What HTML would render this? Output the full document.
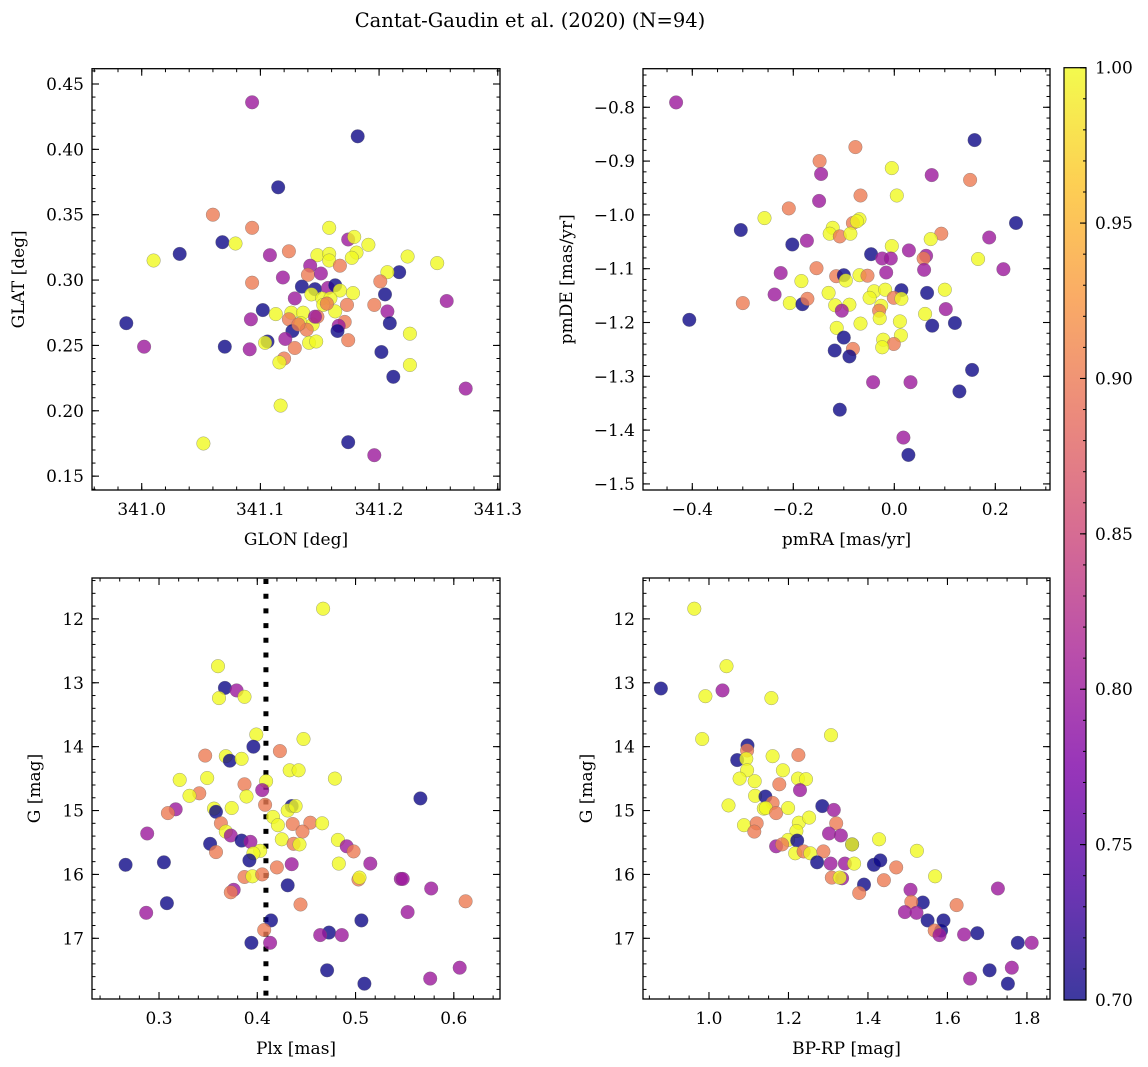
<!DOCTYPE html>
<html><head><meta charset="utf-8"><style>
html,body{margin:0;padding:0;background:#fff;}
svg{display:block;font-family:"DejaVu Serif","Liberation Serif",serif;}
</style></head><body>
<svg id="fig" width="1148" height="1067" viewBox="0 0 1148 1067" xmlns="http://www.w3.org/2000/svg">
<defs>
<linearGradient id="plasma" x1="0" y1="1" x2="0" y2="0">
<stop offset="0" stop-color="#0d0887"/><stop offset="0.125" stop-color="#4c02a1"/><stop offset="0.25" stop-color="#7e03a8"/><stop offset="0.375" stop-color="#a92395"/><stop offset="0.5" stop-color="#cc4778"/><stop offset="0.625" stop-color="#e66c5c"/><stop offset="0.75" stop-color="#f89540"/><stop offset="0.875" stop-color="#fdc328"/><stop offset="1" stop-color="#f0f921"/>
</linearGradient>
</defs>
<text x="530" y="27" font-size="19.5" text-anchor="middle">Cantat-Gaudin et al. (2020) (N=94)</text>
<g id="root"></g>
</svg>
<script>
// Panel 1: GLON vs GLAT
const p1x=[341.093,341.182,341.115,341.060,341.093,341.068,341.079,341.032,341.010,341.108,341.124,341.158,341.174,341.179,341.191,341.181,341.177,341.148,341.158,341.158,341.167,341.142,341.140,341.151,341.224,341.249,341.217,341.207,341.201,341.119,341.093,341.135,341.146,341.143,341.157,341.163,341.167,341.178,341.205,341.129,341.152,341.159,341.173,341.153,341.257,341.196,341.207,341.163,341.102,341.092,341.113,341.126,341.136,341.124,341.134,341.144,341.148,341.171,341.166,341.165,341.209,340.987,341.127,341.139,341.121,341.106,341.104,341.129,341.141,341.147,341.174,341.226,341.002,341.070,341.091,341.202,341.120,341.116,341.226,341.212,341.273,341.117,341.052,341.174,341.196,341.156,341.146,341.132];
const p1y=[0.436,0.410,0.371,0.350,0.340,0.329,0.328,0.320,0.315,0.319,0.322,0.340,0.331,0.333,0.327,0.321,0.317,0.319,0.320,0.315,0.311,0.311,0.304,0.305,0.318,0.313,0.306,0.306,0.299,0.302,0.298,0.295,0.293,0.289,0.294,0.296,0.292,0.290,0.289,0.286,0.286,0.286,0.281,0.281,0.284,0.281,0.276,0.276,0.277,0.270,0.274,0.275,0.275,0.270,0.267,0.266,0.272,0.268,0.265,0.261,0.267,0.267,0.261,0.262,0.255,0.253,0.252,0.248,0.252,0.253,0.254,0.259,0.249,0.249,0.247,0.245,0.240,0.237,0.235,0.226,0.217,0.204,0.175,0.176,0.166,0.282,0.272,0.266];
const p1c=[0.8,0.7,0.7,0.9,0.9,0.7,1,0.7,1,0.8,0.9,1,0.8,1,1,1,1,1,1,1,0.9,0.8,0.9,0.8,1,1,0.7,1,0.9,0.8,0.9,0.7,0.7,1,0.8,0.7,1,1,0.7,0.8,1,1,0.9,1,0.8,0.9,0.8,1,0.7,0.8,1,1,1,0.9,1,1,0.9,0.9,0.8,0.7,0.7,0.7,0.7,0.9,0.8,0.7,1,0.9,1,1,0.9,1,0.8,0.7,0.8,0.7,0.9,1,1,0.7,0.8,1,1,0.7,0.8,0.9,0.8,0.9];
// Panel 2: pmRA vs pmDE
const p2x=[-0.432,0.159,-0.077,-0.148,-0.145,-0.005,0.074,0.150,0.005,-0.067,-0.149,-0.209,-0.257,-0.304,0.241,-0.069,-0.082,-0.074,-0.122,-0.128,-0.108,-0.087,0.093,0.072,0.188,-0.202,-0.173,-0.005,-0.046,-0.024,-0.007,0.029,0.063,0.058,0.166,0.216,0.059,-0.016,-0.154,-0.225,-0.115,-0.100,-0.096,-0.069,-0.053,-0.184,-0.130,-0.040,-0.018,0.014,0.065,0.100,-0.237,-0.300,-0.406,-0.207,-0.182,-0.172,-0.117,-0.089,-0.104,-0.049,-0.001,0.014,-0.026,-0.030,-0.029,0.061,0.102,-0.067,0.011,-0.114,0.075,0.120,-0.100,0.013,-0.022,-0.001,-0.024,-0.118,-0.082,-0.089,0.154,-0.042,0.032,0.129,-0.108,0.018,0.028];
const p2y=[-0.791,-0.861,-0.874,-0.900,-0.924,-0.913,-0.926,-0.935,-0.964,-0.964,-0.974,-0.988,-1.006,-1.028,-1.015,-1.008,-1.015,-1.012,-1.024,-1.035,-1.040,-1.035,-1.035,-1.045,-1.042,-1.055,-1.048,-1.058,-1.073,-1.081,-1.081,-1.066,-1.076,-1.081,-1.082,-1.101,-1.102,-1.107,-1.099,-1.108,-1.114,-1.112,-1.122,-1.112,-1.113,-1.123,-1.145,-1.142,-1.139,-1.140,-1.145,-1.139,-1.148,-1.164,-1.195,-1.164,-1.166,-1.156,-1.168,-1.167,-1.178,-1.154,-1.154,-1.156,-1.169,-1.178,-1.192,-1.184,-1.175,-1.202,-1.198,-1.210,-1.206,-1.201,-1.228,-1.224,-1.232,-1.240,-1.246,-1.252,-1.249,-1.263,-1.288,-1.311,-1.311,-1.328,-1.362,-1.414,-1.446];
const p2c=[0.8,0.7,0.9,0.9,0.8,1,0.8,0.9,1,0.9,0.8,0.9,1,0.7,0.7,1,0.9,1,1,1,0.9,1,0.9,1,0.8,0.7,0.8,1,0.7,0.8,0.8,0.8,0.8,0.9,1,0.8,0.8,0.8,0.9,0.8,0.9,0.7,1,1,0.9,1,1,1,1,0.7,0.7,1,0.8,0.9,0.7,1,0.7,0.9,1,1,0.8,1,0.9,1,1,0.9,1,1,0.8,1,1,1,0.7,0.7,0.7,1,1,0.9,1,0.7,0.9,0.7,0.7,0.8,0.8,0.7,0.7,0.8,0.7];
// Panel 3: Plx vs G
const p3x=[0.467,0.360,0.367,0.379,0.361,0.387,0.399,0.396,0.447,0.423,0.347,0.368,0.372,0.384,0.433,0.442,0.321,0.349,0.409,0.479,0.387,0.405,0.341,0.331,0.389,0.408,0.566,0.317,0.309,0.356,0.358,0.374,0.435,0.431,0.439,0.416,0.421,0.436,0.454,0.466,0.363,0.368,0.373,0.446,0.288,0.425,0.482,0.352,0.384,0.393,0.358,0.437,0.443,0.491,0.498,0.403,0.396,0.392,0.266,0.305,0.435,0.420,0.483,0.515,0.503,0.504,0.387,0.395,0.405,0.546,0.548,0.431,0.376,0.373,0.577,0.308,0.444,0.612,0.287,0.553,0.414,0.506,0.407,0.473,0.464,0.486,0.394,0.413,0.471,0.509,0.576,0.606];
const p3y=[11.84,12.74,13.08,13.12,13.24,13.22,13.81,14.00,13.88,14.07,14.14,14.15,14.22,14.19,14.37,14.37,14.52,14.49,14.54,14.50,14.59,14.68,14.73,14.77,14.78,14.91,14.81,14.98,15.04,14.97,15.02,14.96,14.93,15.00,14.93,15.10,15.23,15.21,15.19,15.20,15.20,15.33,15.39,15.33,15.36,15.45,15.46,15.52,15.47,15.49,15.65,15.52,15.53,15.56,15.64,15.63,15.67,15.78,15.85,15.81,15.84,15.89,15.83,15.83,16.08,16.05,16.04,16.03,16.00,16.07,16.07,16.17,16.24,16.28,16.22,16.45,16.47,16.42,16.60,16.59,16.72,16.72,16.87,16.91,16.95,16.95,17.07,17.07,17.50,17.71,17.63,17.46];
const p3c=[1,1,0.7,0.8,1,1,1,0.7,1,0.9,0.9,1,0.7,1,1,1,1,1,1,1,0.9,0.8,0.9,1,1,0.9,0.7,0.8,0.9,1,0.7,1,0.7,1,1,1,1,0.9,0.9,1,0.9,1,0.8,0.9,0.8,1,1,0.7,0.7,0.8,0.9,0.9,1,0.8,0.9,1,1,0.7,0.7,0.7,0.8,0.9,1,0.8,0.9,1,0.9,1,0.9,0.8,0.8,0.7,0.8,0.9,0.8,0.7,0.9,0.9,0.8,0.8,0.7,0.7,0.9,0.7,0.8,0.8,0.7,0.8,0.7,0.7,0.8,0.8];
const plxMean=0.4088;
// Panel 4: BP-RP vs G
const p4x=[0.963,1.044,0.879,1.034,0.991,1.157,0.983,1.307,1.097,1.096,1.071,1.094,1.160,1.225,1.096,1.186,1.077,1.115,1.177,1.224,1.244,1.229,1.116,1.142,1.049,1.160,1.138,1.143,1.169,1.199,1.285,1.314,1.088,1.120,1.114,1.226,1.252,1.320,1.302,1.332,1.220,1.199,1.222,1.169,1.184,1.217,1.238,1.255,1.288,1.360,1.360,1.428,1.523,1.272,1.306,1.342,1.365,1.415,1.431,1.471,1.309,1.335,1.329,1.390,1.440,1.569,1.378,1.507,1.727,1.538,1.509,1.623,1.493,1.522,1.550,1.590,1.584,1.568,1.580,1.642,1.675,1.777,1.812,1.762,1.706,1.657,1.752];
const p4y=[11.84,12.74,13.09,13.12,13.21,13.24,13.88,13.82,13.98,14.06,14.21,14.19,14.15,14.13,14.37,14.37,14.50,14.54,14.59,14.50,14.51,14.68,14.77,14.78,14.92,14.88,14.97,14.96,15.04,14.96,14.93,14.99,15.23,15.20,15.33,15.19,15.11,15.20,15.36,15.39,15.32,15.46,15.47,15.56,15.53,15.67,15.64,15.67,15.64,15.53,15.53,15.45,15.63,15.81,15.83,15.83,15.83,15.85,15.78,15.89,16.05,16.06,16.05,16.16,16.09,16.03,16.29,16.24,16.22,16.44,16.43,16.48,16.59,16.60,16.72,16.72,16.88,16.88,16.95,16.94,16.92,17.07,17.07,17.46,17.50,17.63,17.71];
const p4c=[1,1,0.7,0.8,1,1,1,1,0.7,0.9,0.7,1,1,0.9,1,1,1,1,0.9,1,1,0.8,1,0.7,1,0.9,1,1,0.9,1,0.7,0.8,1,0.9,0.9,1,1,0.9,0.8,0.8,1,1,0.7,0.8,0.9,1,0.9,1,0.9,0.7,1,1,1,0.7,0.8,0.8,1,0.7,0.7,0.9,0.9,0.8,1,0.7,0.9,1,0.9,0.8,0.8,0.7,0.9,0.9,0.8,0.8,0.7,0.7,0.7,0.9,0.8,0.8,0.7,0.7,0.8,0.8,0.7,0.8,0.7];
// Tick labels
const p1xTicks=["341.0","341.1","341.2","341.3"];
const p1yTicks=["0.15","0.20","0.25","0.30","0.35","0.40","0.45"];
const p2xTicks=["\u22120.4","\u22120.2","0.0","0.2"];
const p2yTicks=["\u22121.5","\u22121.4","\u22121.3","\u22121.2","\u22121.1","\u22121.0","\u22120.9","\u22120.8"];
const p3xTicks=["0.3","0.4","0.5","0.6"];
const gTicks=["12","13","14","15","16","17"];
const p4xTicks=["1.0","1.2","1.4","1.6","1.8"];
const cbTicks=["0.70","0.75","0.80","0.85","0.90","0.95","1.00"];

const FS=17;
const NS="http://www.w3.org/2000/svg";
const root=document.getElementById('root');
function mk(tag,attrs,parent){const e=document.createElementNS(NS,tag);for(const k in attrs)e.setAttribute(k,attrs[k]);(parent||root).appendChild(e);return e;}
const stops=[[0,[13,8,135]],[0.125,[76,2,161]],[0.25,[126,3,168]],[0.375,[169,35,149]],[0.5,[204,71,120]],[0.625,[230,108,92]],[0.75,[248,149,64]],[0.875,[253,195,40]],[1,[240,249,33]]];
function plasma(t){t=Math.max(0,Math.min(1,t));for(let i=1;i<stops.length;i++){if(t<=stops[i][0]){const a=stops[i-1],b=stops[i];const f=(t-a[0])/(b[0]-a[0]);const c=a[1].map((v,j)=>Math.round(v+(b[1][j]-v)*f));return `rgb(${c[0]},${c[1]},${c[2]})`;}}return 'rgb(240,249,33)';}

function panel(o){
  const g=mk('g',{});
  
  
  const L=o.L,R=o.R,T=o.T,B=o.B;
  const sx=v=>L+(v-o.x0)/(o.x1-o.x0)*(R-L);
  const sy=o.inv?(v=>T+(v-o.y0)/(o.y1-o.y0)*(B-T)):(v=>B-(v-o.y0)/(o.y1-o.y0)*(B-T));
  if(o.extra)o.extra(g,sx,sy);
  const pg=mk('g',{},g);
  
  
  for(let i=0;i<o.xs.length;i++){
    const c=mk('circle',{cx:sx(o.xs[i]).toFixed(1),cy:sy(o.ys[i]).toFixed(1),r:6.8,fill:plasma((o.cs[i]-0.7)/0.3),'fill-opacity':0.8,stroke:'#666','stroke-opacity':0.6,'stroke-width':0.5},pg);
    
    
  }
  const f=mk('rect',{x:L,y:T,width:R-L,height:B-T,fill:'none',stroke:'#000','stroke-width':1.3},g);
  
  
  for(let v=o.xmin0;v<=o.x1+1e-9;v+=o.xminor){if(v<o.x0-1e-9)continue;const X=sx(v);mk('line',{x1:X,x2:X,y1:B,y2:B-3.5,stroke:'#000','stroke-width':1},g);mk('line',{x1:X,x2:X,y1:T,y2:T+3.5,stroke:'#000','stroke-width':1},g);}
  o.xTicks.forEach((lab,i)=>{const v=o.xmaj0+i*o.xmaj;const X=sx(v);mk('line',{x1:X,x2:X,y1:B,y2:B-7,stroke:'#000','stroke-width':1.1},g);mk('line',{x1:X,x2:X,y1:T,y2:T+7,stroke:'#000','stroke-width':1.1},g);const t=mk('text',{x:X,y:B+25,'font-size':FS,'text-anchor':'middle'},g);t.textContent=lab;});
  for(let v=o.ymin0;v<=o.y1+1e-9;v+=o.yminor){if(v<o.y0-1e-9)continue;const Y=sy(v);mk('line',{x1:L,x2:L+3.5,y1:Y,y2:Y,stroke:'#000','stroke-width':1},g);mk('line',{x1:R,x2:R-3.5,y1:Y,y2:Y,stroke:'#000','stroke-width':1},g);}
  o.yTicks.forEach((lab,i)=>{const v=o.ymaj0+i*o.ymaj;const Y=sy(v);mk('line',{x1:L,x2:L+7,y1:Y,y2:Y,stroke:'#000','stroke-width':1.1},g);mk('line',{x1:R,x2:R-7,y1:Y,y2:Y,stroke:'#000','stroke-width':1.1},g);const t=mk('text',{x:L-8,y:Y+6,'font-size':FS,'text-anchor':'end'},g);t.textContent=lab;});
  const xl=mk('text',{x:(L+R)/2,y:B+55,'font-size':FS,'text-anchor':'middle'},g);xl.textContent=o.xlabel;
  
  
  const yl=mk('text',{x:0,y:0,'font-size':FS,'text-anchor':'middle',transform:`translate(${o.ylx},${(T+B)/2}) rotate(-90)`},g);yl.textContent=o.ylabel;
  
  
}

panel({name:'glon-glat-panel',L:92,R:500,T:68.7,B:490,x0:340.9581,x1:341.3019,y0:0.1394,y1:0.4617,xs:p1x,ys:p1y,cs:p1c,
  xTicks:p1xTicks,xmaj0:341.0,xmaj:0.1,xmin0:340.96,xminor:0.02,yTicks:p1yTicks,ymaj0:0.15,ymaj:0.05,ymin0:0.14,yminor:0.01,xlabel:'GLON [deg]',ylabel:'GLAT [deg]',ylx:24});
panel({name:'pm-panel',L:643,R:1050,T:68.7,B:490,x0:-0.4976,x1:0.3083,y0:-1.5113,y1:-0.7283,xs:p2x,ys:p2y,cs:p2c,
  xTicks:p2xTicks,xmaj0:-0.4,xmaj:0.2,xmin0:-0.45,xminor:0.05,yTicks:p2yTicks,ymaj0:-1.5,ymaj:0.1,ymin0:-1.5,yminor:0.02,xlabel:'pmRA [mas/yr]',ylabel:'pmDE [mas/yr]',ylx:572});
panel({name:'plx-g-panel',L:92,R:500,T:578,B:999,x0:0.2318,x1:0.647,y0:11.36,y1:17.95,inv:true,xs:p3x,ys:p3y,cs:p3c,
  xTicks:p3xTicks,xmaj0:0.3,xmaj:0.1,xmin0:0.24,xminor:0.02,yTicks:gTicks,ymaj0:12,ymaj:1,ymin0:11.4,yminor:0.2,xlabel:'Plx [mas]',ylabel:'G [mag]',ylx:40,
  extra:(g,sx,sy)=>{const X=sx(plxMean);const l=mk('line',{x1:X,x2:X,y1:579,y2:999,stroke:'#000','stroke-width':5,'stroke-dasharray':'5 9.7'},g);}});
panel({name:'cmd-panel',L:643,R:1050,T:578,B:999,x0:0.834,x1:1.858,y0:11.36,y1:17.95,inv:true,xs:p4x,ys:p4y,cs:p4c,
  xTicks:p4xTicks,xmaj0:1.0,xmaj:0.2,xmin0:0.85,xminor:0.05,yTicks:gTicks,ymaj0:12,ymaj:1,ymin0:11.4,yminor:0.2,xlabel:'BP-RP [mag]',ylabel:'G [mag]',ylx:592});

const cb=mk('g',{});


const cT=67.7,cB=1000,cL=1064,cR=1086;
mk('rect',{x:cL,y:cT,width:cR-cL,height:cB-cT,fill:'url(#plasma)','fill-opacity':0.8},cb);
mk('rect',{x:cL,y:cT,width:cR-cL,height:cB-cT,fill:'none',stroke:'#000','stroke-width':1.2},cb);
const cy=v=>cB-(v-0.7)/0.3*(cB-cT);
for(let k=0;k<=30;k++){const Y=cy(0.7+k*0.01);mk('line',{x1:cR,x2:cR-3,y1:Y,y2:Y,stroke:'#000','stroke-width':1},cb);}
cbTicks.forEach((lab,i)=>{const Y=cy(0.7+i*0.05);mk('line',{x1:cR,x2:cR-6,y1:Y,y2:Y,stroke:'#000','stroke-width':1.1},cb);const t=mk('text',{x:cR+9,y:Y+6,'font-size':FS},cb);t.textContent=lab;});
</script>
</body></html>
